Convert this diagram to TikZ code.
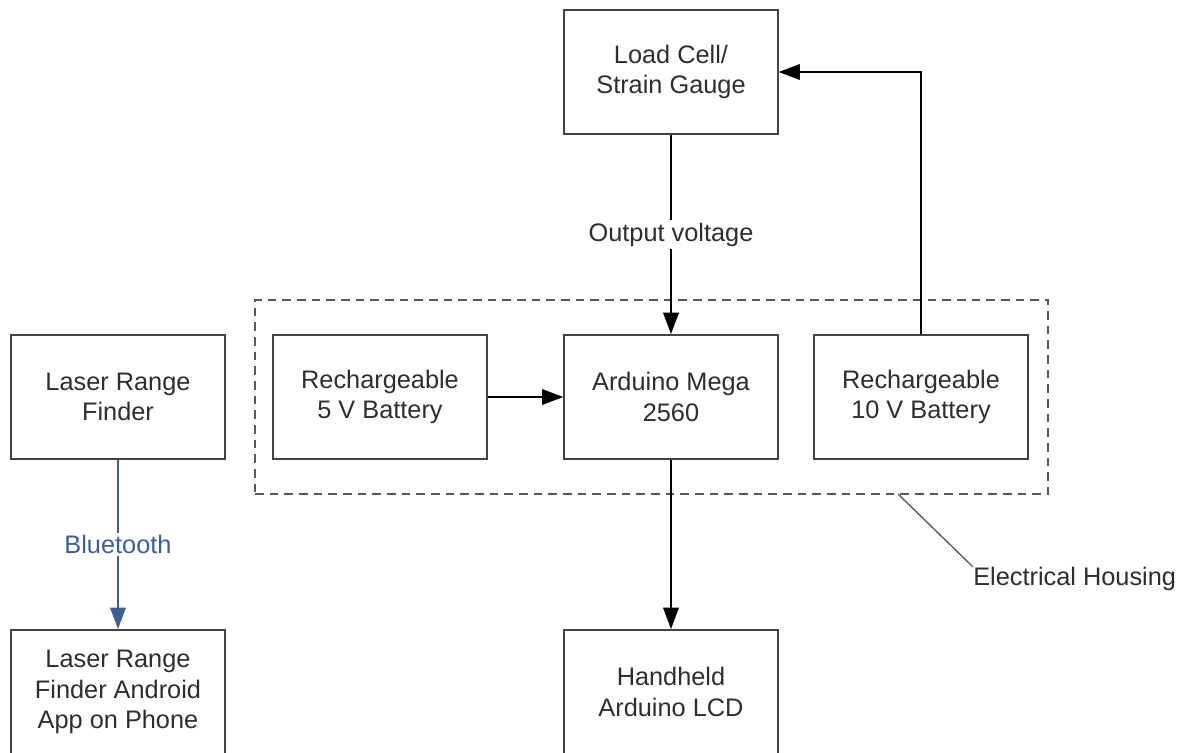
\documentclass[tikz,border=0pt]{standalone}
\usepackage{fontspec}
\setmainfont{Liberation Sans}
\usepackage{xcolor}
\usetikzlibrary{arrows.meta,positioning}
\definecolor{inkgray}{HTML}{2E2E2E}
\definecolor{btblue}{HTML}{3E5F91}

\begin{document}
\begin{tikzpicture}[
  x=0.75pt,y=-0.75pt,
  block/.style={draw=inkgray!90,line width=1.4pt,align=center,
                minimum width=160pt,minimum height=93pt,inner sep=0pt,
                text=inkgray,font=\fontsize{19}{23}\selectfont},
  tag/.style={fill=white,inner sep=2pt,text=inkgray,
              font=\fontsize{19}{23}\selectfont},
  flow/.style={-{Triangle[length=16pt,width=11.5pt]},line width=1.7pt},
  housing/.style={draw=inkgray!80,dash pattern=on 6.5pt off 4.5pt,
                  line width=1.5pt,minimum width=595pt,minimum height=146pt,
                  inner sep=0pt}
]
\useasboundingbox (0,0) rectangle (1183,753);
\clip (0,0) rectangle (1183,753);
\fill[white] (0,0) rectangle (1183,753);

\node[housing] (enclosure) at (651.5,397) {};

\node[block] (loadcell) at (671,72) {Load Cell/\\Strain Gauge};
\node[block] (rangefinder) at (118,397) {Laser Range\\Finder};
\node[block] (battery5) at (380,397) {Rechargeable\\5 V Battery};
\node[block] (mega) at (671,397) {Arduino Mega\\2560};
\node[block] (battery10) at (921,397) {Rechargeable\\10 V Battery};
\node[block] (phoneapp) at (118,692) {Laser Range\\Finder Android\\App on Phone};
\node[block] (lcd) at (671,692) {Handheld\\Arduino LCD};

\draw[flow] (loadcell) -- node[tag] {Output voltage} (mega);
\draw[flow] (battery5) -- (mega);
\draw[flow] (battery10.north) |- (loadcell.east);
\draw[flow] (mega) -- (lcd);
\draw[flow,btblue] (rangefinder) -- node[tag,text=btblue] {Bluetooth} (phoneapp);

% callout for the housing
\node[tag,fill=none,anchor=west,inner sep=0pt] (housinglabel) at (973,579)
  {Electrical Housing};
\coordinate (tap) at (898,494);
\draw[inkgray!80,line width=1pt] (tap) -- (housinglabel.north west);
\end{tikzpicture}
\end{document}
